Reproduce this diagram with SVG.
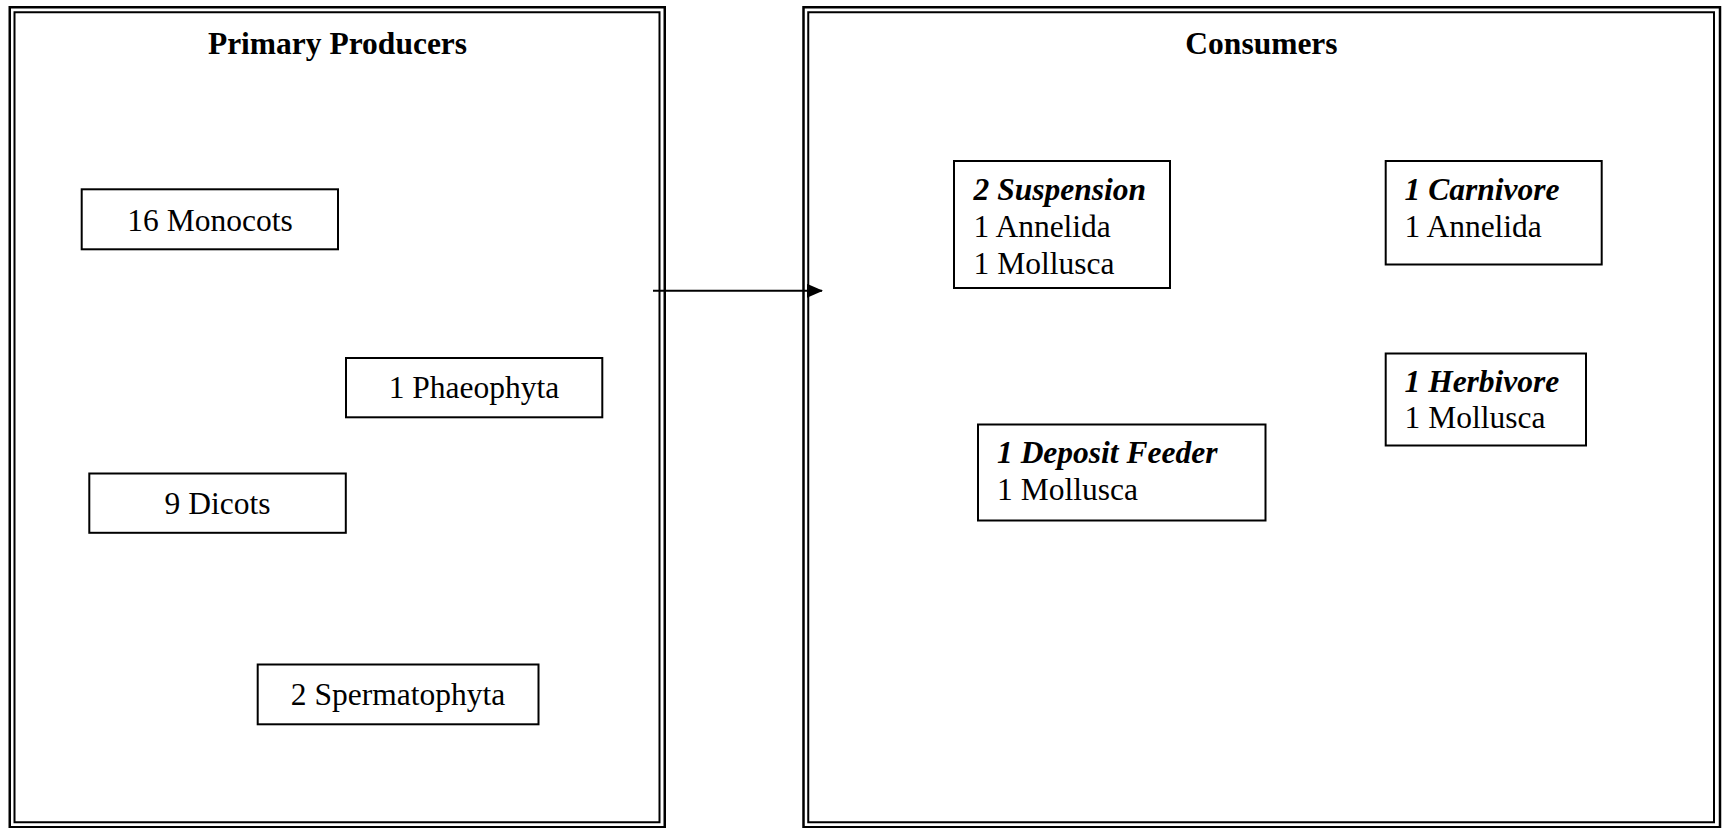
<svg xmlns="http://www.w3.org/2000/svg" width="1727" height="828" viewBox="0 0 1727 828">
  <style>
    .frame-outer { fill: none; stroke: #000; stroke-width: 2.5; }
    .frame-inner { fill: none; stroke: #000; stroke-width: 2; }
    .box { fill: #fff; stroke: #000; stroke-width: 2; }
    .txt { font-family: "Liberation Serif", "Times New Roman", serif; font-size: 31.5px; fill: #000; }
    .title { font-weight: bold; text-anchor: middle; }
    .mid { text-anchor: middle; }
    .head { font-weight: bold; font-style: italic; }
    .wire { stroke: #000; stroke-width: 2; fill: none; }
  </style>
  <defs>
    <marker id="arrow" markerUnits="userSpaceOnUse" markerWidth="16" markerHeight="14" refX="15" refY="7" orient="auto">
      <path d="M0,0 L16,7 L0,14 Z" fill="#000"/>
    </marker>
  </defs>
  <rect width="1727" height="828" fill="#fff"/>

  <!-- Producers panel -->
  <g id="panel-producers">
    <rect class="frame-outer" x="9.75" y="7.25" width="655" height="820"/>
    <rect class="frame-inner" x="14.5" y="12.25" width="645" height="810"/>
    <text class="txt title" x="337.5" y="53.5">Primary Producers</text>
  </g>

  <!-- Consumers panel -->
  <g id="panel-consumers">
    <rect class="frame-outer" x="803.5" y="7.25" width="916.5" height="820"/>
    <rect class="frame-inner" x="808.25" y="12.25" width="905.75" height="810"/>
    <text class="txt title" x="1261.5" y="53.5">Consumers</text>
  </g>

  <!-- Producer groups -->
  <g id="node-monocots">
    <rect class="box" x="81.7" y="189.3" width="256.3" height="60"/>
    <text class="txt mid" x="210" y="230.5">16 Monocots</text>
  </g>
  <g id="node-phaeophyta">
    <rect class="box" x="346" y="358" width="256.3" height="59.3"/>
    <text class="txt mid" x="474" y="398">1 Phaeophyta</text>
  </g>
  <g id="node-dicots">
    <rect class="box" x="89.3" y="473.5" width="256.5" height="59.3"/>
    <text class="txt mid" x="217.5" y="513.5">9 Dicots</text>
  </g>
  <g id="node-spermatophyta">
    <rect class="box" x="257.7" y="664.5" width="280.8" height="59.8"/>
    <text class="txt mid" x="398" y="705">2 Spermatophyta</text>
  </g>

  <!-- Consumer groups -->
  <g id="node-suspension">
    <rect class="box" x="954" y="161" width="216" height="127"/>
    <text class="txt head" x="973.5" y="200">2 Suspension</text>
    <text class="txt" x="973.5" y="237.3">1 Annelida</text>
    <text class="txt" x="973.5" y="274">1 Mollusca</text>
  </g>
  <g id="node-carnivore">
    <rect class="box" x="1385.7" y="161" width="216" height="103.5"/>
    <text class="txt head" x="1404.5" y="200">1 Carnivore</text>
    <text class="txt" x="1404.5" y="237.3">1 Annelida</text>
  </g>
  <g id="node-herbivore">
    <rect class="box" x="1385.7" y="353.5" width="200.3" height="92"/>
    <text class="txt head" x="1404.5" y="391.7">1 Herbivore</text>
    <text class="txt" x="1404.5" y="428.3">1 Mollusca</text>
  </g>
  <g id="node-deposit-feeder">
    <rect class="box" x="978" y="424.5" width="287.5" height="96"/>
    <text class="txt head" x="997" y="463.3">1 Deposit Feeder</text>
    <text class="txt" x="997" y="500">1 Mollusca</text>
  </g>

  <!-- Connectors -->
  <g id="connectors">
    <line class="wire" x1="653" y1="290.8" x2="822" y2="290.8" marker-end="url(#arrow)"/>
  </g>
</svg>
